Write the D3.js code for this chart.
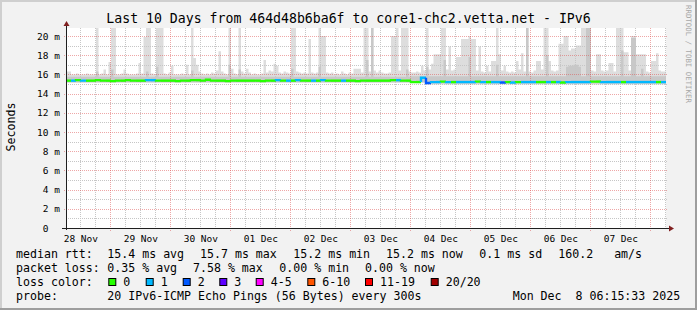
<!DOCTYPE html>
<html><head><meta charset="utf-8">
<script src="https://cdn.jsdelivr.net/npm/d3@7"></script>
<style>
html,body{margin:0;padding:0;background:#f2f2f2;}
svg{display:block;}
text{font-family:"DejaVu Sans Mono",monospace;white-space:pre;}
</style>
</head><body>
<svg id="c" width="697" height="310"></svg>
<script>
// ---------------- data ----------------
const title = "Last 10 Days from 464d48b6ba6f to core1-chc2.vetta.net - IPv6";
const yAxisTitle = "Seconds";
const watermark = "RRDTOOL / TOBI OETIKER";
const yTickValues = [0,2,4,6,8,10,12,14,16,18,20];
const yTickLabels = ["0\u00a0\u00a0","2 m","4 m","6 m","8 m","10 m","12 m","14 m","16 m","18 m","20 m"];
const xTickLabels = ["28 Nov","29 Nov","30 Nov","01 Dec","02 Dec","03 Dec","04 Dec","05 Dec","06 Dec","07 Dec"];
const periodStart = Date.UTC(2025,10,28,6,15,33);
const periodEnd   = Date.UTC(2025,11,8,6,15,33);

// smoke, hourly: top of outer (lightest) band, ms
const smokeMax = [
 16.3,16.3,16.0,16.0,16.1,16.0,16.0,16.0,16.1,16.0,
 16.0,16.0,21,16.0,16.1,16.5,16.0,17.3,21,21,
 16.0,16.0,16.1,16.5,16.1,16.0,16.0,16.0,16.1,17.2,
 16.1,19.9,21,21,16.1,16.0,21,21,21,16.1,
 16.0,16.2,16.9,16.0,16.0,16.0,16.1,16.0,17.0,16.0,
 21,17.7,17.0,16.3,16.1,16.0,16.1,16.0,16.2,16.1,
 16.4,18.4,16.3,16.1,16.0,21,16.6,16.1,16.0,21,
 16.3,16.1,16.6,16.2,16.0,16.1,16.0,16.0,16.1,17.5,
 16.2,16.4,16.3,17.1,16.9,16.2,16.1,16.3,16.2,16.1,
 21,21,16.3,16.2,16.1,16.2,16.1,19.7,16.2,16.1,
 16.2,21,20.0,20.0,16.2,16.1,16.2,16.0,16.1,16.0,
 16.3,16.1,16.0,16.2,16.1,16.6,16.6,16.6,16.2,21,
 21,16.3,21,16.4,16.2,16.4,16.2,16.1,16.1,16.2,
 20.0,20.0,21,16.4,21,21,21,16.3,16.2,16.2,
 16.3,16.2,16.9,16.4,21,16.5,17.1,18.1,18.1,18.1,
 21,21,16.5,18.9,16.4,16.5,17.8,17.8,19.7,19.7,
 19.7,20.0,19.7,19.7,16.4,18.9,16.3,16.2,16.9,16.3,
 17.4,17.4,21,18.1,16.4,16.9,16.3,16.2,16.3,16.2,
 17.4,16.5,18.2,16.3,21,16.3,16.2,16.4,17.4,17.4,
 16.5,21,21,17.4,16.4,16.3,16.4,19.2,19.2,20.0,
 20.0,18.5,18.7,18.7,19.0,19.0,21,21,21,21,
 16.4,16.3,18.1,18.1,16.4,16.3,16.4,17.2,17.2,16.3,
 21,21,21,18.3,18.3,16.4,20.0,20.0,18.1,18.1,
 18.1,18.1,16.3,16.2,17.4,17.4,18.2,16.4,16.3,16.3
];
// smoke, hourly: top of inner (darker) band, ms
const smokeHigh = [
 15.75,15.75,15.75,15.75,15.75,15.75,15.75,15.75,15.75,15.75,
 15.75,15.75,16.3,15.75,15.75,15.75,15.75,15.75,16.5,15.75,
 15.75,15.75,15.75,15.75,15.75,15.75,15.75,15.75,15.75,15.75,
 15.75,15.75,16.3,15.75,15.75,15.75,16.8,15.75,15.75,15.75,
 15.75,15.75,15.75,15.75,15.75,15.75,15.75,15.75,15.75,15.75,
 16.4,15.75,15.75,15.75,15.75,15.75,15.75,15.75,15.75,15.75,
 15.75,15.75,15.75,15.75,15.75,17.0,15.75,15.75,15.75,16.5,
 15.75,15.75,15.75,15.75,15.75,15.75,15.75,15.75,15.75,15.75,
 15.75,15.75,15.75,15.75,15.75,15.75,15.75,15.75,15.75,15.75,
 16.6,15.75,15.75,15.75,15.75,15.75,15.75,15.75,15.75,15.75,
 15.75,16.8,15.75,15.75,15.75,15.75,15.75,15.75,15.75,15.75,
 15.75,15.75,15.75,15.75,15.75,15.75,15.75,15.75,15.75,15.75,
 17.5,15.75,21,15.75,15.75,15.75,15.75,15.75,15.75,15.75,
 15.75,15.75,15.75,15.75,15.75,15.75,16.5,15.75,15.8,15.8,
 15.8,15.8,15.8,15.8,16.8,15.8,15.8,15.8,15.8,15.8,
 15.8,17.5,15.8,15.8,15.8,15.8,15.8,15.8,15.8,15.8,
 15.8,17.8,15.8,15.8,15.8,15.8,15.8,15.8,15.8,15.8,
 15.8,15.8,17.0,15.8,15.8,15.8,15.8,15.8,15.8,15.8,
 15.8,15.8,15.8,15.8,21,15.8,15.8,15.8,15.8,15.8,
 15.8,15.8,18.0,15.8,15.8,15.8,15.8,15.8,15.8,15.8,
 16.8,16.9,16.9,17.0,17.0,16.8,15.8,15.8,21,21,
 15.8,15.8,15.8,15.8,15.8,15.8,15.8,15.8,15.8,15.8,
 15.8,15.8,18.5,15.8,15.8,15.8,19.8,19.8,15.8,15.8,
 16.6,15.8,15.8,15.8,15.8,15.8,15.8,15.8,15.8,15.8
];
// smoke bottoms, per day (outer band, inner band), ms
const smokeMinDaily      = [15.1,15.1,15.1,15.1,15.1,15.1,14.95,14.95,14.95,14.95,14.95];
const smokeInnerMinDaily = [15.2,15.2,15.2,15.2,15.2,15.2,15.05,15.05,15.05,15.05,15.05];
// median rtt, 2-hourly, ms
const medianRtt = [
 15.35,15.35,15.4,15.35,15.35,15.35,15.4,15.35,15.35,15.3,
 15.35,15.35,15.4,15.35,15.35,15.35,15.4,15.4,15.35,15.35,
 15.35,15.35,15.3,15.35,15.35,15.4,15.4,15.35,15.45,15.35,
 15.35,15.35,15.3,15.35,15.35,15.35,15.35,15.35,15.35,15.3,
 15.35,15.35,15.4,15.35,15.35,15.35,15.4,15.35,15.35,15.35,
 15.35,15.4,15.35,15.35,15.35,15.35,15.35,15.35,15.3,15.35,
 15.35,15.35,15.35,15.35,15.35,15.4,15.4,15.35,15.35,15.2,
 15.2,15.65,15.1,15.2,15.2,15.25,15.2,15.2,15.2,15.2,
 15.2,15.2,15.25,15.2,15.2,15.2,15.2,15.15,15.2,15.15,
 15.2,15.2,15.2,15.2,15.2,15.2,15.2,15.2,15.2,15.15,
 15.2,15.2,15.2,15.2,15.2,15.25,15.25,15.2,15.2,15.2,
 15.2,15.2,15.2,15.2,15.2,15.2,15.2,15.2,15.2,15.2
];
// loss class index per 2-hour bin (into lossLabels)
const lossClass = [
 0,1,0,1,0,0,0,0,0,0,
 0,0,0,0,0,0,1,1,0,0,
 0,0,0,0,0,0,0,0,0,0,
 0,0,0,0,0,0,0,0,0,0,
 0,0,1,0,1,0,1,0,0,1,
 0,1,0,0,0,1,0,0,0,0,
 0,0,0,0,0,0,1,0,0,0,
 0,1,2,1,1,0,1,0,1,1,
 1,1,0,1,0,1,1,2,0,1,
 0,1,1,1,0,0,1,0,1,0,
 1,1,1,1,1,0,0,1,1,1,
 1,0,1,1,1,1,1,1,0,1
];
const lossLabels = ["0","1","2","3","4-5","6-10","11-19","20/20"];
const lossColors = ["#26ff00","#00b8ff","#0059ff","#5e00ff","#ff00ff","#ff5500","#ff0000","#a10000"];

const legendRtt  = ["median rtt:","15.4 ms avg","15.7 ms max","15.2 ms min","15.2 ms now","0.1 ms sd","160.2   am/s"];
const legendLoss = ["packet loss:","0.35 % avg","7.58 % max","0.00 % min","0.00 % now"];
const legendLossColor = "loss color:";
const legendProbe = ["probe:","20 IPv6-ICMP Echo Pings (56 Bytes) every 300s","Mon Dec  8 06:15:33 2025"];

// ---------------- layout ----------------
const W = 697, H = 310;
const X0 = 66, X1 = 666, Y0 = 228, Y1 = 28;
const rttX  = [16,107.3,200,293.3,386,479.3,558.3];
const lossX = [16,107.3,193,279.3,365];
const swatchX = [108.3,145.7,182.7,219.3,255.7,307.3,365,430.7];
const probeX = [16,107.3,512.7];
const rowY = [258,272,286,300];
const legendFont = 11.6;

const svg = d3.select("#c");
svg.append("rect").attr("width",W).attr("height",H).attr("fill","#f2f2f2");
svg.append("path").attr("d",`M0,0H${W}V2H2V${H}H0Z`).attr("fill","#cfcfcf");
svg.append("path").attr("d",`M${W},${H}H0V${H-2}H${W-2}V0H${W}Z`).attr("fill","#9e9e9e");

const x = d3.scaleUtc().domain([new Date(periodStart), new Date(periodEnd)]).range([X0, X1]);
const y = d3.scaleLinear().domain([0, 200/9.6]).range([Y0, Y1]);

svg.append("rect").attr("x",X0).attr("y",Y1).attr("width",X1-X0).attr("height",Y0-Y1).attr("fill","#fff");
svg.append("clipPath").attr("id","plotclip").append("rect")
  .attr("x",X0).attr("y",Y1).attr("width",X1-X0).attr("height",Y0-Y1);

const span = periodEnd - periodStart;
const N = smokeMax.length;
const binMs = span / N;
const pick = (arr, t) => arr[Math.min(arr.length-1, Math.floor((t - periodStart) / (span/arr.length)))];
const pts = d3.range(N+1).map(i => {
  const t = periodStart + Math.min(i, N-1)*binMs;
  return {t:new Date(periodStart + i*binMs), i:Math.min(i,N-1),
          lo: pick(smokeMinDaily.slice(0,10), t), lo2: pick(smokeInnerMinDaily.slice(0,10), t)};
});

const gPlot = svg.append("g").attr("clip-path","url(#plotclip)");
gPlot.append("path").datum(pts)
  .attr("d", d3.area().curve(d3.curveStepAfter).x(d=>x(d.t)).y0(d=>y(d.lo)).y1(d=>y(smokeMax[d.i])))
  .attr("fill","#dddddd");
gPlot.append("path").datum(pts)
  .attr("d", d3.area().curve(d3.curveStepAfter).x(d=>x(d.t)).y0(d=>y(d.lo2)).y1(d=>y(smokeHigh[d.i])))
  .attr("fill","#c8c8c8");

// grid
const gGrid = svg.append("g").attr("shape-rendering","crispEdges");
const snap = v => Math.round(v) + 0.5;
const minorY = d3.range(1,21,2);
gGrid.selectAll("line.hmin").data(minorY).join("line")
  .attr("x1",X0).attr("x2",X1+2).attr("y1",d=>snap(y(d))).attr("y2",d=>snap(y(d)))
  .attr("stroke","#c6c6c6").attr("stroke-dasharray","1,1");
const sixH = d3.utcHour.every(6).range(new Date(periodStart), new Date(periodEnd)).filter(d=>d.getUTCHours()!==0);
gGrid.selectAll("line.vmin").data(sixH).join("line")
  .attr("y1",Y1).attr("y2",Y0+1).attr("x1",d=>snap(x(d))).attr("x2",d=>snap(x(d)))
  .attr("stroke","#c6c6c6").attr("stroke-dasharray","1,1");
const majorY = yTickValues.filter(v=>v>0);
gGrid.selectAll("line.hmaj").data(majorY).join("line")
  .attr("x1",X0-2).attr("x2",X1+2).attr("y1",d=>snap(y(d))).attr("y2",d=>snap(y(d)))
  .attr("stroke","rgba(222,79,79,0.5)").attr("stroke-dasharray","1,1");
const days = d3.utcDay.range(new Date(periodStart), new Date(periodEnd));
gGrid.selectAll("line.vmaj").data(days).join("line")
  .attr("y1",Y1).attr("y2",Y0+3).attr("x1",d=>snap(x(d))).attr("x2",d=>snap(x(d)))
  .attr("stroke","rgba(222,79,79,0.5)").attr("stroke-dasharray","1,1");

// median line coloured by loss
const gMed = svg.append("g").attr("clip-path","url(#plotclip)");
const mBin = span / medianRtt.length;
medianRtt.forEach((v,i) => {
  const xa = x(new Date(periodStart + i*mBin)), xb = x(new Date(periodStart + (i+1)*mBin));
  const yPrev = y(i>0 ? medianRtt[i-1] : v), yCur = y(v);
  gMed.append("path")
    .attr("d", `M${xa},${yPrev}V${yCur}H${xb}`)
    .attr("fill","none").attr("stroke", lossColors[lossClass[i]]).attr("stroke-width",2.4);
});

// axes
const ya = svg.append("g").attr("transform",`translate(${X0},0)`)
  .call(d3.axisLeft(y).tickValues(yTickValues).tickFormat((d,i)=>yTickLabels[i]).tickSize(0).tickPadding(6));
ya.select(".domain").remove();
ya.attr("font-family","DejaVu Sans Mono").attr("font-size",9.5);
ya.selectAll("text").attr("fill","#000");

const noons = xTickLabels.map((_,k)=> new Date(Date.UTC(2025,10,28,12) + k*86400000));
const xa = svg.append("g").attr("transform",`translate(0,${Y0})`)
  .call(d3.axisBottom(x).tickValues(noons).tickFormat((d,i)=>xTickLabels[i]).tickSize(0).tickPadding(7));
xa.select(".domain").remove();
xa.attr("font-family","DejaVu Sans Mono").attr("font-size",9.5);
xa.selectAll("text").attr("fill","#000");

svg.append("line").attr("x1",X0+0.5).attr("x2",X0+0.5).attr("y1",Y0+2).attr("y2",Y1-3)
  .attr("stroke","#1f1f1f").attr("shape-rendering","crispEdges");
svg.append("line").attr("x1",X0-4).attr("x2",X1+4).attr("y1",Y0+0.5).attr("y2",Y0+0.5)
  .attr("stroke","#1f1f1f").attr("shape-rendering","crispEdges");
svg.append("path").attr("d",`M${X0-2.5},${Y1-2}L${X0+3.5},${Y1-2}L${X0+0.5},${Y1-7}Z`).attr("fill","#802020");
svg.append("path").attr("d",`M${X1+3},${Y0-2.5}L${X1+3},${Y0+3.5}L${X1+8},${Y0+0.5}Z`).attr("fill","#802020");

// texts
svg.append("text").attr("x",348.5).attr("y",23).attr("text-anchor","middle")
  .attr("font-size",13.2).attr("fill","#000").text(title);
svg.append("text").attr("transform","translate(15,127) rotate(-90)").attr("text-anchor","middle")
  .attr("font-size",11.6).attr("fill","#000").text(yAxisTitle);
svg.append("text").attr("transform","translate(686,5) rotate(90)")
  .attr("font-family","DejaVu Sans").attr("font-size",7.4).attr("fill","#a8a8a8").text(watermark);

const leg = svg.append("g").attr("font-size",legendFont).attr("fill","#000");
legendRtt.forEach((s,i)=> leg.append("text").attr("x",rttX[i]).attr("y",rowY[0]).text(s));
legendLoss.forEach((s,i)=> leg.append("text").attr("x",lossX[i]).attr("y",rowY[1]).text(s));
leg.append("text").attr("x",16).attr("y",rowY[2]).text(legendLossColor);
lossLabels.forEach((s,i)=>{
  leg.append("rect").attr("x",swatchX[i]+0.5).attr("y",rowY[2]-7.5).attr("width",7).attr("height",7)
    .attr("fill",lossColors[i]).attr("stroke","#000").attr("stroke-width",1);
  leg.append("text").attr("x",swatchX[i]+15).attr("y",rowY[2]).text(s);
});
legendProbe.forEach((s,i)=> leg.append("text").attr("x",probeX[i]).attr("y",rowY[3]).text(s));
</script>
</body></html>
